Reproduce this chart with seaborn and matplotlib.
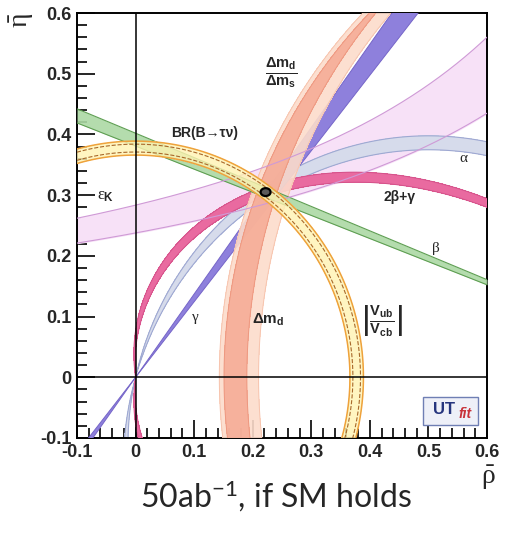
import numpy as np
import pandas as pd
import matplotlib
matplotlib.use("Agg")
import matplotlib.pyplot as plt
import seaborn as sns
from matplotlib.patches import Ellipse, Rectangle

# constraint ranges
rho_lim = [-0.1, 0.6]
eta_lim = [-0.1, 0.6]
apex = [0.222, 0.305]
apex_size = [0.017, 0.013]

gamma_band = [51.2, 53.9]          # deg, lines through (0, 0)
beta_band = [20.85, 21.9]          # deg, lines through (1, 0)
alpha_band = [103.0, 106.3]        # deg, arcs through (0,0) and (1,0)
two_beta_gamma_band = [95.0, 98.8]
# delta m bands: (centre on rho axis, radius) of outer and inner edge
dm_light_outer = [1.0, 0.857]
dm_light_inner = [1.12, 0.91]
dm_dark_outer = [1.0, 0.849]
dm_dark_inner = [1.118, 0.928]
vub_outer = [0.366, 0.389]         # radius around (0, 0)
vub_inner = [0.371, 0.384]
epsk_k = [0.3145, 0.3445]          # eta = k / (a - rho), lower / upper edge
epsk_a = [1.323, 1.215]

ticks = [-0.1, 0.0, 0.1, 0.2, 0.3, 0.4, 0.5, 0.6]
tick_labels = ["-0.1", "0", "0.1", "0.2", "0.3", "0.4", "0.5", "0.6"]

sns.set_theme(style="white")
plt.rcParams["font.family"] = ["Liberation Sans", "DejaVu Sans"]
plt.rcParams["mathtext.fontset"] = "custom"
plt.rcParams["mathtext.rm"] = "Liberation Sans"
plt.rcParams["mathtext.bf"] = "Liberation Sans:bold"
plt.rcParams["mathtext.it"] = "Liberation Serif"
plt.rcParams["mathtext.sf"] = "Liberation Sans"

fig = plt.figure(figsize=(5.08, 5.33), dpi=100)
ax = fig.add_axes([77 / 508, 1 - 438 / 533, 410 / 508, 425 / 533])

# grid for the curved constraints
r = np.linspace(rho_lim[0], rho_lim[1], 901)
e = np.linspace(eta_lim[0], eta_lim[1], 901)
R, E = np.meshgrid(r, e)


def band(field, lims, fill, edge, z, lw=0.7, alpha=1.0):
    ax.contourf(R, E, field, levels=lims, colors=[fill], alpha=alpha, zorder=z)
    ax.contour(R, E, field, levels=lims, colors=[edge], linewidths=lw,
               zorder=z + 0.1)


def ring(outer, inner, fill, edge, z, alpha=1.0):
    d_out = np.sqrt((R - outer[0]) ** 2 + E ** 2) - outer[1]
    d_in = np.sqrt((R - inner[0]) ** 2 + E ** 2) - inner[1]
    field = np.maximum(d_out, -d_in)
    ax.contourf(R, E, field, levels=[-10, 0], colors=[fill], alpha=alpha,
                zorder=z)
    ax.contour(R, E, field, levels=[0], colors=[edge], linewidths=0.7,
               zorder=z + 0.1)


# epsilon_K
lo = epsk_k[0] / (epsk_a[0] - r)
hi = epsk_k[1] / (epsk_a[1] - r)
ax.fill_between(r, lo, hi, color="#f7e1f7", zorder=1)
edges = pd.DataFrame({"rho": np.concatenate([r, r]),
                      "eta": np.concatenate([lo, hi]),
                      "edge": ["lo"] * len(r) + ["hi"] * len(r)})
sns.lineplot(data=edges, x="rho", y="eta", units="edge", estimator=None,
             color="#cf9ad6", lw=0.8, ax=ax, zorder=6.5, sort=False)

# alpha: circles through (0,0) and (1,0)
S = R ** 2 - R + E ** 2
c1, c2 = [0.5 / np.tan(np.radians(a)) for a in alpha_band]
F = (S - 2 * c1 * E) * (S - 2 * c2 * E)
ax.contourf(R, E, F, levels=[-10, 0], colors=["#d6dbeb"], zorder=2)
ax.contour(R, E, F, levels=[0], colors=["#9ea8d2"], linewidths=0.8, zorder=2.1)

# 2beta + gamma
Ea = np.abs(E)
tbg = 2 * np.degrees(np.arctan2(Ea, 1 - R)) + np.degrees(np.arctan2(Ea, R))
band(tbg, two_beta_gamma_band, "#e96aa0", "#d4528a", 3)

# gamma
t1, t2 = np.tan(np.radians(gamma_band))
ax.fill_between(r, t1 * r, t2 * r, color="#8e80dc", lw=0, zorder=4)
ax.plot(r, t1 * r, color="#7565c8", lw=0.7, zorder=4.1)
ax.plot(r, t2 * r, color="#7565c8", lw=0.7, zorder=4.1)

# delta m_d and delta m_d / delta m_s
ring(dm_light_outer, dm_light_inner, "#fcdccb", "#f7c4ae", 5, alpha=0.9)
ring(dm_dark_outer, dm_dark_inner, "#f5a993", "#ee9880", 5.2, alpha=0.85)

# beta
b1, b2 = np.tan(np.radians(beta_band))
ax.fill_between(r, b1 * (1 - r), b2 * (1 - r), color="#acd9a4", lw=0,
                alpha=0.9, zorder=6)
ax.plot(r, b1 * (1 - r), color="#5e9e52", lw=0.8, zorder=6.1)
ax.plot(r, b2 * (1 - r), color="#5e9e52", lw=0.8, zorder=6.1)

# |Vub/Vcb| and BR(B -> tau nu)
Rb = np.sqrt(R ** 2 + E ** 2)
band(Rb, vub_outer, "#fff3b2", "#eea23c", 7, lw=1.1, alpha=0.8)
ax.contour(R, E, Rb, levels=vub_inner, colors=["#a8682a"], linewidths=0.8,
           linestyles="dashed", zorder=7.2)

# fit result
ax.add_patch(Ellipse(apex, apex_size[0], apex_size[1], facecolor="#5a5a5a",
                     edgecolor="black", lw=1.6, zorder=10))

ax.axhline(0, color="black", lw=1.1, zorder=8)
ax.axvline(0, color="black", lw=1.1, zorder=8)

# labels
ax.text(0.249, 0.50, r"$\frac{\mathbf{\Delta m_d}}{\mathbf{\Delta m_s}}$",
        fontsize=15, ha="center", va="center", zorder=11)
ax.text(0.118, 0.402, "BR(B→τν)", fontsize=10, fontweight="bold",
        ha="center", va="center", zorder=11)
ax.text(-0.051, 0.297, r"$\varepsilon_\mathbf{K}$", fontsize=12,
        ha="center", va="center", zorder=11)
ax.text(0.56, 0.361, "α", family="Liberation Serif", fontsize=11,
        ha="center", va="center", zorder=11)
ax.text(0.45, 0.297, "2β+γ", fontsize=10, fontweight="bold",
        ha="center", va="center", zorder=11)
ax.text(0.512, 0.212, "β", family="Liberation Serif", fontsize=11,
        ha="center", va="center", zorder=11)
ax.text(0.102, 0.099, "γ", family="Liberation Serif", fontsize=11,
        ha="center", va="center", zorder=11)
ax.text(0.226, 0.094, r"$\mathbf{\Delta m_d}$", fontsize=11,
        ha="center", va="center", zorder=11)
ax.text(0.42, 0.094, r"$\left|\frac{\mathbf{V_{ub}}}{\mathbf{V_{cb}}}\right|$",
        fontsize=15, ha="center", va="center", zorder=11)

# UTfit logo
ax.add_patch(Rectangle((0.491, -0.079), 0.093, 0.046, facecolor="#eef0f8",
                       edgecolor="#6f7fb4", lw=1.0, zorder=11))
ax.text(0.527, -0.053, "UT", fontsize=12, fontweight="bold", color="#26357e",
        ha="center", va="center", zorder=12)
ax.text(0.562, -0.06, "fit", fontsize=10, fontweight="bold", style="italic",
        color="#c8323a", ha="center", va="center", zorder=12)

ax.set_xlim(rho_lim)
ax.set_ylim(eta_lim)
ax.set_xticks(ticks, tick_labels)
ax.set_yticks(ticks, tick_labels)
ax.set_xticks(np.arange(-0.1, 0.601, 0.02), minor=True)
ax.set_yticks(np.arange(-0.1, 0.601, 0.02), minor=True)
ax.tick_params(which="both", direction="in", top=False, right=False,
               left=True, bottom=True, color="black", width=1.2)
ax.tick_params(which="major", length=13, labelsize=13, pad=4)
ax.tick_params(which="minor", length=7)
for lab in ax.get_xticklabels() + ax.get_yticklabels():
    lab.set_fontweight("bold")
for sp in ax.spines.values():
    sp.set_color("black")
    sp.set_linewidth(1.4)
ax.set_xlabel("")
ax.set_ylabel("")

fig.text(22 / 508, 1 - 20 / 533, r"$\bar{\eta}$", rotation=90, fontsize=20,
         ha="center", va="center")
fig.text(488 / 508, 1 - 478 / 533, r"$\bar{\rho}$", fontsize=20,
         ha="center", va="center")
fig.text(276 / 508, 1 - 508 / 533, r"50ab$^{\mathregular{-1}}$, if SM holds",
         family="Lato", fontsize=23, ha="center", va="baseline")

fig.savefig("out.png", dpi=100)
